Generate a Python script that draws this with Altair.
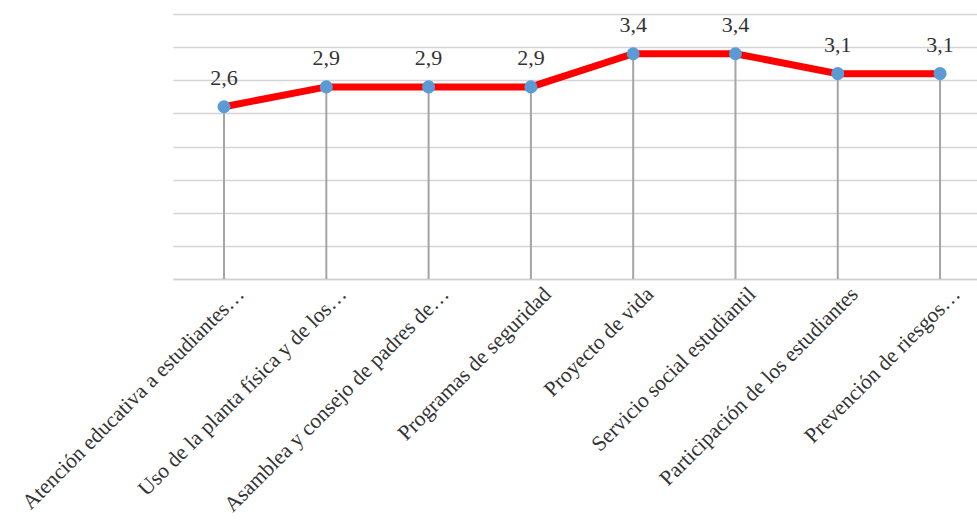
import altair as alt
import pandas as pd

categories = [
    "Atención educativa a estudiantes…",
    "Uso de la planta física y de los…",
    "Asamblea y consejo de padres de…",
    "Programas de seguridad",
    "Proyecto de vida",
    "Servicio social estudiantil",
    "Participación de los estudiantes",
    "Prevención de riesgos…",
]
values = [2.6, 2.9, 2.9, 2.9, 3.4, 3.4, 3.1, 3.1]

df = pd.DataFrame({"cat": categories, "v": values})

x = alt.X("cat:N", sort=categories,
          scale=alt.Scale(type="point", padding=0.43, align=0.58),
          axis=alt.Axis(title=None, labelAngle=-45, labelAlign="right", labelBaseline="top",
                        labelFont="Liberation Serif", labelFontSize=21.5, labelColor="#333333",
                        ticks=False, domainColor="#d0d0d0", domainWidth=1.5, labelPadding=4,
                        labelOffset=9, labelLimit=500, grid=False))
y = alt.Y("v:Q", scale=alt.Scale(domain=[0, 4]),
          axis=alt.Axis(title=None, labels=False, ticks=False, domain=False,
                        values=[0, 0.5, 1, 1.5, 2, 2.5, 3, 3.5, 4],
                        gridColor="#d4d4d4", gridWidth=1.5))

base = alt.Chart(df)

drops = base.mark_rule(color="#a5a5a5", strokeWidth=2).encode(x=x, y=y, y2=alt.datum(0))
line = base.mark_line(color="#ff0000", strokeWidth=7).encode(x=x, y=y)
pts = base.mark_point(filled=True, color="#5b9bd5", size=170, opacity=1).encode(x=x, y=y)
labels = base.transform_calculate(
    lab="replace(format(datum.v, '.1f'), '.', ',')"
).mark_text(font="Liberation Serif", fontSize=22, color="#333333", baseline="bottom", dy=-17).encode(
    x=x, y=y, text="lab:N")

chart = alt.layer(drops, line, pts, labels).properties(
    width=804, height=265,
    autosize=alt.AutoSizeParams(type="none"),
    padding={"left": 173, "top": 14, "right": 0, "bottom": 242},
).configure_view(stroke=None)

chart.save("out.html", embed_options={"renderer": "svg", "actions": False})
